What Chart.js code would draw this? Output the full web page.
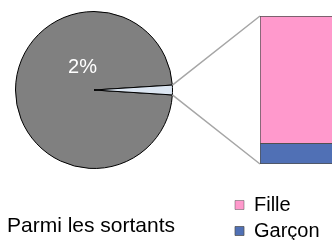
<!DOCTYPE html>
<html>
<head>
<meta charset="utf-8">
<script src="https://cdn.jsdelivr.net/npm/chart.js@4"></script>
<style>
html, body { margin: 0; padding: 0; background: #fff; overflow: hidden; }
#wrap { position: relative; width: 332px; height: 240px; overflow: hidden; }
#pieChart { position: absolute; left: 0; top: 0; }
#barChart { position: absolute; left: 229px; top: 0; }
</style>
</head>
<body>
<div id="wrap">
<canvas id="pieChart" width="332" height="240"></canvas>
<canvas id="barChart" width="130" height="251"></canvas>
</div>
<script>
var pieLabels = ['Autres', 'Sortants'];
var pieValues = [98, 2];
var pieColors = ['#808080', '#dce6f2'];
var pieTitle = 'Parmi les sortants';

var barCategories = ['Sortants'];
var barLabels = ['Garçon', 'Fille'];
var barValues = [14, 86];
var barColors = ['#5070b5', '#ff99cc'];

Chart.defaults.font.family = '"Liberation Sans", Arial, sans-serif';
Chart.defaults.color = '#000';

var pieTotal = pieValues[0] + pieValues[1];
var smallAngle = pieValues[1] / pieTotal * 360;

// stacked bar on the right
window.barChartInstance = new Chart(document.getElementById('barChart'), {
    type: 'bar',
    data: {
        labels: barCategories,
        datasets: barLabels.map(function(label, i) {
            return {
                label: label,
                data: [barValues[i]],
                backgroundColor: barColors[i],
                borderColor: '#505050',
                borderWidth: i === 0 ? { top: 1, left: 1, bottom: 1, right: 0 } : { top: 1, left: 1, bottom: 0, right: 0 },
                borderSkipped: false,
                barPercentage: 1,
                categoryPercentage: 1
            };
        })
    },
    options: {
        responsive: false,
        animation: false,
        events: [],
        layout: { padding: { top: 16, left: 0, right: 0, bottom: 0 } },
        scales: {
            x: {
                stacked: true,
                grid: { display: false },
                border: { display: false },
                ticks: { display: false },
                afterFit: function(s) { s.height = 25; }
            },
            y: {
                stacked: true,
                min: 0,
                max: 100,
                grid: { display: false },
                border: { display: false },
                ticks: { display: false },
                afterFit: function(s) { s.width = 31; }
            }
        },
        plugins: {
            legend: {
                position: 'bottom',
                align: 'start',
                reverse: true,
                labels: { boxWidth: 9, boxHeight: 9, padding: 6, color: '#000', font: { size: 20 } }
            },
            tooltip: { enabled: false }
        }
    }
});

// connector lines + percent label
var pieOfBarPlugin = {
    id: 'pieOfBar',
    afterDatasetsDraw: function(chart) {
        var ctx = chart.ctx;
        var arc = chart.getDatasetMeta(0).data[1];
        var p = arc.getProps(['x', 'y', 'startAngle', 'endAngle', 'outerRadius']);
        var bar = window.barChartInstance;
        var dx = bar.canvas.offsetLeft - chart.canvas.offsetLeft;
        var dy = bar.canvas.offsetTop - chart.canvas.offsetTop;
        var topBar = bar.getDatasetMeta(1).data[0];
        var bottomBar = bar.getDatasetMeta(0).data[0];
        var left = dx + topBar.x - topBar.width / 2;
        var r = p.outerRadius;
        ctx.save();
        ctx.strokeStyle = '#a6a6a6';
        ctx.lineWidth = 1.5;
        ctx.beginPath();
        ctx.moveTo(p.x + r * Math.cos(p.startAngle), p.y + r * Math.sin(p.startAngle));
        ctx.lineTo(left, dy + topBar.y);
        ctx.moveTo(p.x + r * Math.cos(p.endAngle), p.y + r * Math.sin(p.endAngle));
        ctx.lineTo(left, dy + bottomBar.base);
        ctx.stroke();

        ctx.fillStyle = '#fff';
        ctx.font = '20px "Liberation Sans", Arial, sans-serif';
        ctx.textAlign = 'center';
        ctx.textBaseline = 'middle';
        ctx.fillText(Math.round(pieValues[1] / pieTotal * 100) + '%', p.x - 11.5, p.y - 23);
        ctx.restore();
    }
};

window.pieChartInstance = new Chart(document.getElementById('pieChart'), {
    type: 'pie',
    data: {
        labels: pieLabels,
        datasets: [{
            data: pieValues,
            backgroundColor: pieColors,
            borderColor: '#000',
            borderWidth: 1
        }]
    },
    options: {
        responsive: false,
        animation: false,
        events: [],
        rotation: 90 + smallAngle / 2,
        layout: { padding: { left: 7, right: 151, top: 11, bottom: 1.5 } },
        plugins: {
            legend: { display: false },
            tooltip: { enabled: false },
            title: {
                display: true,
                text: pieTitle,
                position: 'bottom',
                align: 'start',
                color: '#000',
                font: { size: 21, weight: 'normal', lineHeight: 1.2 },
                padding: { top: 44.3, bottom: 0 }
            }
        }
    },
    plugins: [pieOfBarPlugin]
});
</script>
</body>
</html>
